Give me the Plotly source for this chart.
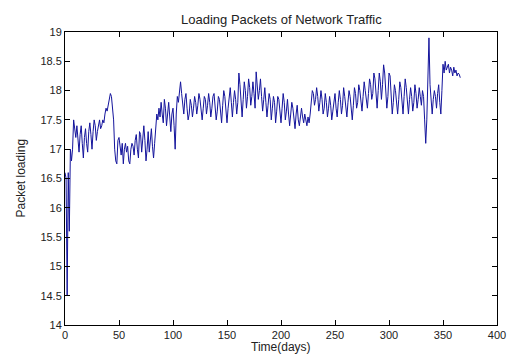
import plotly.graph_objects as go

values = [
    16.6, 16.5, 14.5, 16.6, 15.6, 17.0, 16.8, 17.0, 17.5, 17.35,
    17.2, 17.4, 17.1, 16.95, 17.25, 17.4, 17.1, 16.85, 17.2, 17.35,
    17.1, 16.95, 17.3, 17.45, 17.25, 17.0, 17.3, 17.5, 17.4, 17.15,
    17.3, 17.45, 17.5, 17.35, 17.4, 17.5, 17.45, 17.6, 17.7, 17.65,
    17.75, 17.85, 17.95, 17.9, 17.75, 17.5, 17.0, 16.8, 16.75, 17.15,
    17.2, 17.05, 16.9, 17.1, 16.75, 17.0, 17.1, 16.95, 17.05, 16.8,
    16.75, 17.0, 17.1, 17.05, 16.9, 17.15, 17.25, 17.0, 16.85, 17.3,
    17.25, 16.95, 17.2, 17.4, 17.15, 16.8, 17.0, 17.3, 16.95, 17.2,
    17.35, 17.05, 16.85, 17.1, 17.35, 17.6, 17.5, 17.7, 17.55, 17.8,
    17.6, 17.45, 17.85, 17.7, 17.4, 17.65, 17.8, 17.55, 17.3, 17.6,
    17.7, 17.4, 17.0, 17.6, 17.9, 17.8, 18.05, 18.15, 17.95, 17.7,
    17.6, 17.85, 17.95, 17.7, 17.5, 17.6, 17.85, 17.75, 17.55, 17.7,
    17.9, 17.8, 17.6, 17.75, 17.95, 17.85, 17.65, 17.5, 17.7, 17.9,
    17.85, 17.6, 17.75, 17.95, 17.8, 17.55, 17.7, 17.9, 17.95, 17.7,
    17.5, 17.65, 17.9, 17.85, 17.6, 17.45, 17.75, 18.0, 17.9, 17.65,
    17.45, 17.7, 17.95, 18.05, 17.8, 17.55, 17.8, 18.0, 17.85, 17.6,
    17.8, 18.3, 18.1, 17.8, 17.55, 17.85, 18.15, 18.0, 17.7, 17.9,
    18.2, 18.05, 17.75, 17.9, 18.15, 17.95, 17.7, 18.32, 18.1, 17.85,
    18.0, 18.2, 17.9, 17.65, 17.85, 18.05, 17.8, 17.55, 17.75, 17.95,
    17.85, 17.5, 17.7, 17.9, 17.8, 17.45, 17.65, 17.9, 17.85, 17.6,
    17.45, 17.7, 17.95, 17.8, 17.5, 17.65, 17.85, 17.6, 17.4, 17.6,
    17.8, 17.7, 17.45, 17.35, 17.6, 17.75, 17.5, 17.4, 17.55, 17.7,
    17.55, 17.45, 17.6, 17.5, 17.4, 17.55, 17.45, 17.6, 17.8, 18.0,
    17.95, 17.75, 17.85, 18.05, 17.9, 17.65, 17.8, 18.0, 17.85, 17.6,
    17.7, 17.95, 17.8, 17.55, 17.7, 17.9, 17.75, 17.5, 17.65, 17.85,
    17.95, 17.7, 17.55, 17.8, 18.0, 17.85, 17.6, 17.75, 18.05, 17.9,
    17.65, 17.55, 17.8, 18.0, 17.9, 17.6, 17.5, 17.75, 18.05, 17.95,
    17.7, 17.8, 18.1, 18.0, 17.75, 17.65, 17.9, 18.15, 18.0, 17.8,
    17.7, 17.95, 18.2, 18.1, 17.85, 17.95, 18.3, 18.2, 17.9, 17.7,
    18.0, 18.3, 18.15, 17.85, 18.1, 18.44, 18.3, 18.0, 17.7, 17.9,
    18.3, 18.25, 17.9, 17.6, 17.8, 18.1, 18.0, 17.75, 17.6, 17.85,
    18.15, 18.05, 17.8, 17.6, 17.9, 18.2, 18.05, 17.75, 17.6, 17.85,
    18.05, 17.9, 17.65, 17.8, 18.1, 17.95, 17.7, 17.85, 18.05, 17.9,
    17.75, 18.0, 17.9, 17.5, 17.1, 17.5, 18.1, 18.9, 18.1, 17.8,
    17.6, 17.85, 18.0, 17.9, 17.7, 17.95, 18.1, 17.8, 17.6, 18.0,
    18.45, 18.3, 18.5, 18.35, 18.4, 18.45, 18.3, 18.4, 18.35, 18.25,
    18.4, 18.3, 18.35, 18.25, 18.3, 18.28, 18.22,
]
days = list(range(len(values)))

x_ticks = [0, 50, 100, 150, 200, 250, 300, 350, 400]
y_ticks = [14, 14.5, 15, 15.5, 16, 16.5, 17, 17.5, 18, 18.5, 19]
y_tick_labels = ["14", "14.5", "15", "15.5", "16", "16.5", "17", "17.5", "18", "18.5", "19"]

title_text = "Loading Packets of Network Traffic"
x_label = "Time(days)"
y_label = "Packet loading"

font_family = "Liberation Sans, Arial, sans-serif"

fig = go.Figure()
fig.add_trace(go.Scatter(
    x=days, y=values, mode="lines",
    line=dict(color="#14149c", width=1),
    showlegend=False,
))

axis_common = dict(
    showline=True, linecolor="black", linewidth=1, mirror="ticks",
    ticks="inside", ticklen=5, tickcolor="black", tickwidth=1,
    showgrid=False, zeroline=False,
    tickfont=dict(family=font_family, size=11, color="#222222"),
)

fig.update_layout(
    width=518, height=356,
    margin=dict(l=65, r=12, t=32, b=31),
    paper_bgcolor="white", plot_bgcolor="white",
    xaxis=dict(range=[0, 400], tickvals=x_ticks, **axis_common),
    yaxis=dict(range=[14, 19], tickvals=y_ticks, ticktext=y_tick_labels, **axis_common),
    annotations=[
        dict(text=title_text, xref="paper", yref="paper", x=0.5, y=1, yshift=13,
             showarrow=False, yanchor="middle",
             font=dict(family=font_family, size=13, color="#222222")),
        dict(text=x_label, xref="paper", yref="paper", x=0.5, y=0, yshift=-22,
             showarrow=False, yanchor="middle",
             font=dict(family=font_family, size=12, color="#222222")),
        dict(text=y_label, xref="paper", yref="paper", x=0, xshift=-45, y=0.5,
             showarrow=False, textangle=-90, xanchor="center",
             font=dict(family=font_family, size=12, color="#222222")),
    ],
)

fig.write_html("out.html")
